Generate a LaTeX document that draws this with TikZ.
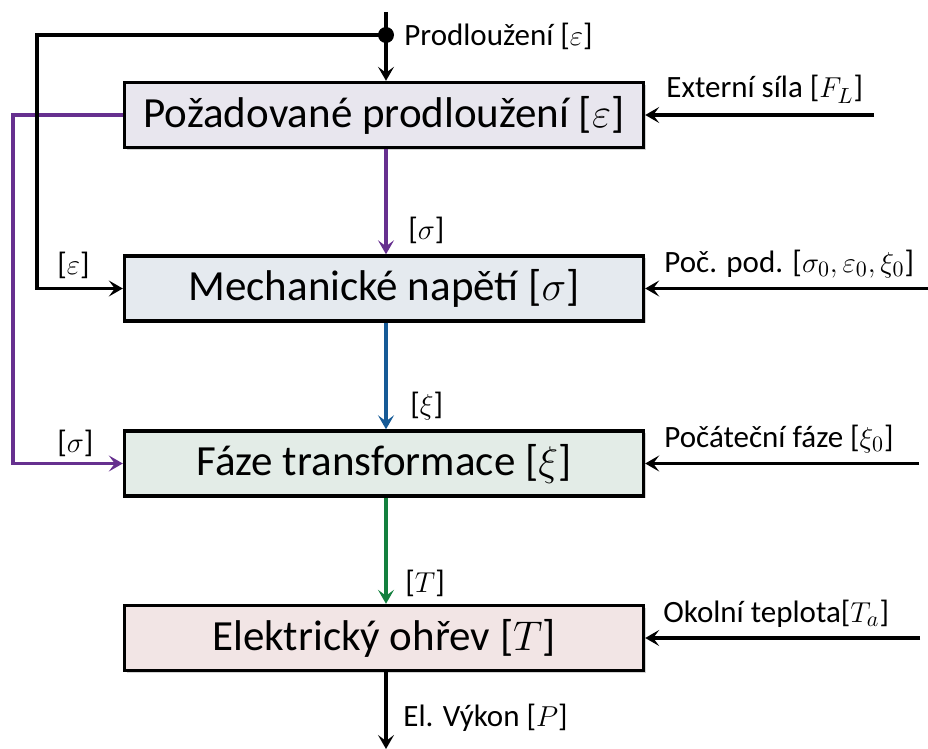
\documentclass[tikz,border=0pt]{standalone}
\usepackage{fontspec}
\setmainfont{Carlito}
\usetikzlibrary{arrows.meta,shadows}

\definecolor{fialova}{HTML}{66308F}
\definecolor{modra}{HTML}{165A96}
\definecolor{zelena}{HTML}{13803E}
\definecolor{blokA}{HTML}{E8E6EE}
\definecolor{blokB}{HTML}{E5EAEF}
\definecolor{blokC}{HTML}{E3ECE7}
\definecolor{blokD}{HTML}{F2E5E5}

\begin{document}
\begin{tikzpicture}[x=0.5pt,y=-0.5pt,blok/.style={draw,line width=1.7pt,minimum width=259.5pt,minimum height=32.5pt,font=\fontsize{21.5}{25}\selectfont,drop shadow={opacity=0.35,shadow xshift=1.2pt,shadow yshift=-1.2pt}},sipka/.style={line width=1.8pt,-{Stealth[length=7pt,width=8pt,inset=3pt]}},popis/.style={font=\fontsize{15.5}{18}\selectfont,anchor=base west,inner sep=0pt}]
		
		\useasboundingbox (0,0) rectangle (928,749);
		
		\node[blok,fill=blokA] (pozad) at (384,115) {Požadované prodloužení [$\varepsilon$]};
		\node[blok,fill=blokB] (napeti) at (384,288.5) {Mechanické napětí [$\sigma$]};
		\node[blok,fill=blokC] (faze) at (384,463.5) {Fáze transformace [$\xi$]};
		\node[blok,fill=blokD] (ohrev) at (384,638) {Elektrický ohřev [$T$]};
		
		\coordinate (vstup) at (386,12);
		\coordinate (uzel) at (386,35);
		\coordinate (cernyroh) at (37,35);
		\coordinate (fialroh) at (13,115);
		\coordinate (vystup) at (386,749);
		
		\coordinate (extsila) at (874,115);
		\coordinate (pocpod) at (928,288.5);
		\coordinate (pocfaze) at (919,463.5);
		\coordinate (okoli) at (920,638);
		
		\draw[sipka,fialova] (pozad.west) -- (fialroh) |- (faze.west);
		\draw[sipka] (uzel) -- (cernyroh) |- (napeti.west);
		\draw[sipka] (vstup) -- (vstup |- pozad.north);
		\fill (uzel) circle (4pt);
		
		\draw[sipka,fialova] (pozad.south -| uzel) -- (uzel |- napeti.north);
		\draw[sipka,modra] (napeti.south -| uzel) -- (uzel |- faze.north);
		\draw[sipka,zelena] (faze.south -| uzel) -- (uzel |- ohrev.north);
		\draw[sipka] (ohrev.south -| uzel) -- (vystup);
		
		\draw[sipka] (extsila) -- (pozad.east);
		\draw[sipka] (pocpod) -- (napeti.east);
		\draw[sipka] (pocfaze) -- (faze.east);
		\draw[sipka] (okoli) -- (ohrev.east);
		
		\node[popis] (prodl) at (404,46) {Prodloužení [$\varepsilon$]};
		\node[popis] (lextsila) at (666,98) {Externí síla [$F_L$]};
		\node[popis] (lpocpod) at (664,272) {Poč. pod. [$\sigma_0, \varepsilon_0, \xi_0$]};
		\node[popis] (lpocfaze) at (664,447) {Počáteční fáze [$\xi_0$]};
		\node[popis] (lokoli) at (663,622) {Okolní teplota[$T_a$]};
		
		\node[popis] (lsigma) at (408,240) {[$\sigma$]};
		\node[popis] (lxi) at (410,415) {[$\xi$]};
		\node[popis] (lteplota) at (405,592) {[$T$]};
		\node[popis] (lvykon) at (403,726) {El. Výkon [$P$]};
		
		\node[popis] (leps) at (57,275) {[$\varepsilon$]};
		\node[popis] (lsigmab) at (57,452) {[$\sigma$]};
		\end{tikzpicture}
\end{document}
